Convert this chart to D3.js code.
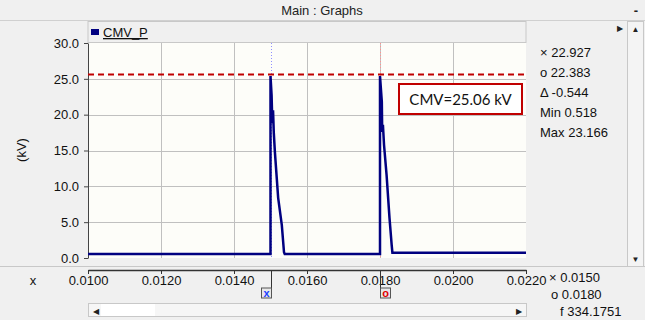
<!DOCTYPE html>
<html>
<head>
<meta charset="utf-8">
<script src="https://cdn.jsdelivr.net/npm/d3@7"></script>
<style>
  body { margin: 0; background: #f0f0f0; }
  svg { display: block; font-family: "Liberation Sans", Arial, sans-serif; }
</style>
</head>
<body>
<svg id="chart" width="645" height="320"></svg>
<script>
/* Waveform samples (time in s, CMV in kV) */
const time = [0.0100, 0.01500, 0.01500, 0.01503, 0.01505, 0.01507, 0.01509, 0.01512, 0.01521, 0.01531, 0.01537, 0.01539,
              0.01800, 0.01800, 0.01805, 0.01806, 0.01808, 0.01811, 0.01818, 0.01826, 0.01832, 0.01834, 0.0220]
const cmv  = [0.56, 0.56, 25.4, 22.7, 18.8, 20.6, 17.5, 14.8, 8.4, 4.6, 0.8, 0.56,
              0.56, 25.4, 21.8, 17.6, 18.6, 15.8, 11.6, 5.6, 1.8, 0.75, 0.75]

const yTicks = [0, 5, 10, 15, 20, 25, 30]
const xTicks = [0.010, 0.012, 0.014, 0.016, 0.018, 0.020, 0.022]
const cursors = [0.0150, 0.0180]
const peakLine = 25.6
const annotation = "CMV=25.06 kV"
const statsY = ["\u00d7 22.927", "o 22.383", "\u0394 -0.544", "Min 0.518", "Max 23.166"]
const statsX = ["\u00d7 0.0150", "o 0.0180", "f 334.1751"]

/*Plot area in pixels*/
const plot = { left: 88, right: 526, top: 43, bottom: 258 }

const svg = d3.select("#chart")

const x = d3.scaleLinear().domain([0.010, 0.022]).range([plot.left, plot.right])
const y = d3.scaleLinear().domain([0, 30]).range([plot.bottom, plot.top])

/*Window title bar*/
svg.append("rect").attr("x", 0).attr("y", 0).attr("width", 645).attr("height", 20).attr("fill", "#f0f0f0")
svg.append("line").attr("x1", 0).attr("x2", 645).attr("y1", 20.5).attr("y2", 20.5).attr("stroke", "#d0d0d0")
svg.append("text").attr("x", 322).attr("y", 15).attr("text-anchor", "middle")
    .style("font-size", "13px").attr("fill", "#222").text("Main : Graphs")
svg.append("text").attr("x", 636).attr("y", 15).attr("text-anchor", "middle")
    .style("font-size", "13px").style("font-weight", "bold").attr("fill", "#222").text("-")

/*Legend bar above the plot*/
svg.append("rect").attr("x", plot.left).attr("y", 21.5).attr("width", plot.right - plot.left).attr("height", 21)
    .attr("fill", "#f0f0f0").attr("stroke", "#c8c8c8")
svg.append("rect").attr("x", 91).attr("y", 29).attr("width", 8).attr("height", 6).attr("fill", "#000080")
svg.append("text").attr("x", 103).attr("y", 37).style("font-size", "13px")
    .style("text-decoration", "underline").attr("fill", "#111").text("CMV_P")

/*Plot background*/
svg.append("rect").attr("x", plot.left).attr("y", plot.top).attr("width", plot.right - plot.left)
    .attr("height", plot.bottom - plot.top).attr("fill", "#fdfdf9")

/*Grid*/
svg.append("g").selectAll("line").data(yTicks.slice(1, -1)).enter().append("line")
    .attr("x1", plot.left).attr("x2", plot.right)
    .attr("y1", d => Math.round(y(d)) + 0.5).attr("y2", d => Math.round(y(d)) + 0.5)
    .attr("stroke", "#c0c0c0")
svg.append("g").selectAll("line").data(xTicks.slice(1, -1)).enter().append("line")
    .attr("x1", d => Math.round(x(d)) + 0.5).attr("x2", d => Math.round(x(d)) + 0.5)
    .attr("y1", plot.top).attr("y2", plot.bottom)
    .attr("stroke", "#c0c0c0")

/*Y axis*/
const yAxis = svg.append("g").attr("transform", "translate(" + plot.left + ",0)")
    .call(d3.axisLeft(y).tickValues(yTicks).tickFormat(d3.format(".1f")).tickSize(4).tickSizeOuter(0))
yAxis.select(".domain").attr("stroke", "#444")
yAxis.selectAll("text").style("font-size", "13px").attr("fill", "#111").attr("dx", "-2")
yAxis.selectAll("line").attr("stroke", "#444")

svg.append("text").attr("transform", "translate(26,150) rotate(-90)").attr("text-anchor", "middle")
    .style("font-size", "13px").attr("fill", "#111").text("(kV)")

/*Cursor lines*/
svg.append("g").selectAll("line").data(cursors).enter().append("line")
    .attr("x1", d => Math.round(x(d)) + 0.5).attr("x2", d => Math.round(x(d)) + 0.5)
    .attr("y1", plot.top).attr("y2", plot.bottom)
    .attr("stroke", (d, i) => i === 0 ? "#9090ff" : "#ff9090")
    .attr("stroke-dasharray", "1,2")

/*Peak reference line*/
svg.append("line").attr("x1", plot.left).attr("x2", plot.right)
    .attr("y1", y(peakLine)).attr("y2", y(peakLine))
    .attr("stroke", "#c00000").attr("stroke-width", 2).attr("stroke-dasharray", "6,4")

/*Waveform*/
const line = d3.line().x(d => x(d[0])).y(d => y(d[1]))
svg.append("path").datum(d3.zip(time, cmv))
    .attr("d", line).attr("fill", "none").attr("stroke", "#000080").attr("stroke-width", 2.5)
    .attr("stroke-linejoin", "miter")

/*Annotation box*/
svg.append("rect").attr("x", 399).attr("y", 84).attr("width", 123).attr("height", 30)
    .attr("fill", "#ffffff").attr("stroke", "#c00000").attr("stroke-width", 2)
svg.append("text").attr("x", 460.5).attr("y", 104.5).attr("text-anchor", "middle")
    .style("font-family", "Lato, 'Noto Sans', sans-serif").style("font-size", "15px").attr("fill", "#111")
    .text(annotation)

/*Stats panel on the right*/
svg.append("g").selectAll("text").data(statsY).enter().append("text")
    .attr("x", 540).attr("y", (d, i) => 57 + i * 20)
    .style("font-size", "13px").attr("fill", "#111").text(d => d)

/*Vertical scrollbar*/
svg.append("rect").attr("x", 627.5).attr("y", 21.5).attr("width", 16).attr("height", 245)
    .attr("fill", "#f4f4f4").attr("stroke", "#c8c8c8")
svg.append("text").attr("x", 635.5).attr("y", 32).attr("text-anchor", "middle").style("font-size", "8px").attr("fill", "#222").text("\u25b2")
svg.append("text").attr("x", 635.5).attr("y", 262).attr("text-anchor", "middle").style("font-size", "8px").attr("fill", "#222").text("\u25bc")
svg.append("text").attr("x", 620).attr("y", 31).attr("text-anchor", "middle").style("font-size", "8px").attr("fill", "#222").text("\u25b6")

/*Separator between plot panel and x axis panel*/
svg.append("line").attr("x1", 0).attr("x2", 645).attr("y1", 266.5).attr("y2", 266.5).attr("stroke", "#c8c8c8")

/*X axis*/
const xAxis = svg.append("g").attr("transform", "translate(0,270)")
    .call(d3.axisBottom(x).tickValues(xTicks).tickFormat(d3.format(".4f")).tickSize(4).tickSizeOuter(0))
xAxis.select(".domain").attr("stroke", "#333").attr("stroke-width", 1.5)
xAxis.selectAll("line").attr("stroke", "#333")
xAxis.selectAll("text").style("font-size", "13px").attr("fill", "#111").attr("dy", "0.6em")

svg.append("text").attr("x", 33).attr("y", 285).attr("text-anchor", "middle")
    .style("font-size", "13px").attr("fill", "#111").text("x")

/*Cursor markers under the x axis*/
const marks = svg.append("g").selectAll("g").data(cursors).enter().append("g")
    .attr("transform", d => "translate(" + (Math.round(x(d)) + 0.5) + ",0)")
marks.append("path")
    .attr("d", "M0,271 L0,288")
    .attr("stroke", "#333").attr("fill", "none")
marks.append("rect")
    .attr("x", (d, i) => i === 0 ? -10 : 0).attr("y", 288).attr("width", 10).attr("height", 10)
    .attr("fill", "#e8e8e8").attr("stroke", "#555")
marks.append("text")
    .attr("x", (d, i) => i === 0 ? -5 : 5).attr("y", 297).attr("text-anchor", "middle")
    .style("font-size", "11px").style("font-weight", "bold")
    .attr("fill", (d, i) => i === 0 ? "#2040ff" : "#e00000")
    .text((d, i) => i === 0 ? "x" : "o")

/*Horizontal scrollbar*/
svg.append("rect").attr("x", plot.left + 0.5).attr("y", 303.5).attr("width", plot.right - plot.left).attr("height", 13)
    .attr("fill", "#f6f6f6").attr("stroke", "#c8c8c8")
svg.append("rect").attr("x", 101).attr("y", 304).attr("width", 54).attr("height", 12).attr("fill", "#ffffff")
svg.append("text").attr("x", 96).attr("y", 314).attr("text-anchor", "middle").style("font-size", "8px").attr("fill", "#222").text("\u25c0")
svg.append("text").attr("x", 519).attr("y", 314).attr("text-anchor", "middle").style("font-size", "8px").attr("fill", "#222").text("\u25b6")

/*Cursor readout on the x axis panel*/
svg.append("g").selectAll("text").data(statsX).enter().append("text")
    .attr("x", (d, i) => [549, 551, 560][i]).attr("y", (d, i) => 282 + i * 17)
    .style("font-size", "13px").attr("fill", "#111").text(d => d)
</script>
</body>
</html>
